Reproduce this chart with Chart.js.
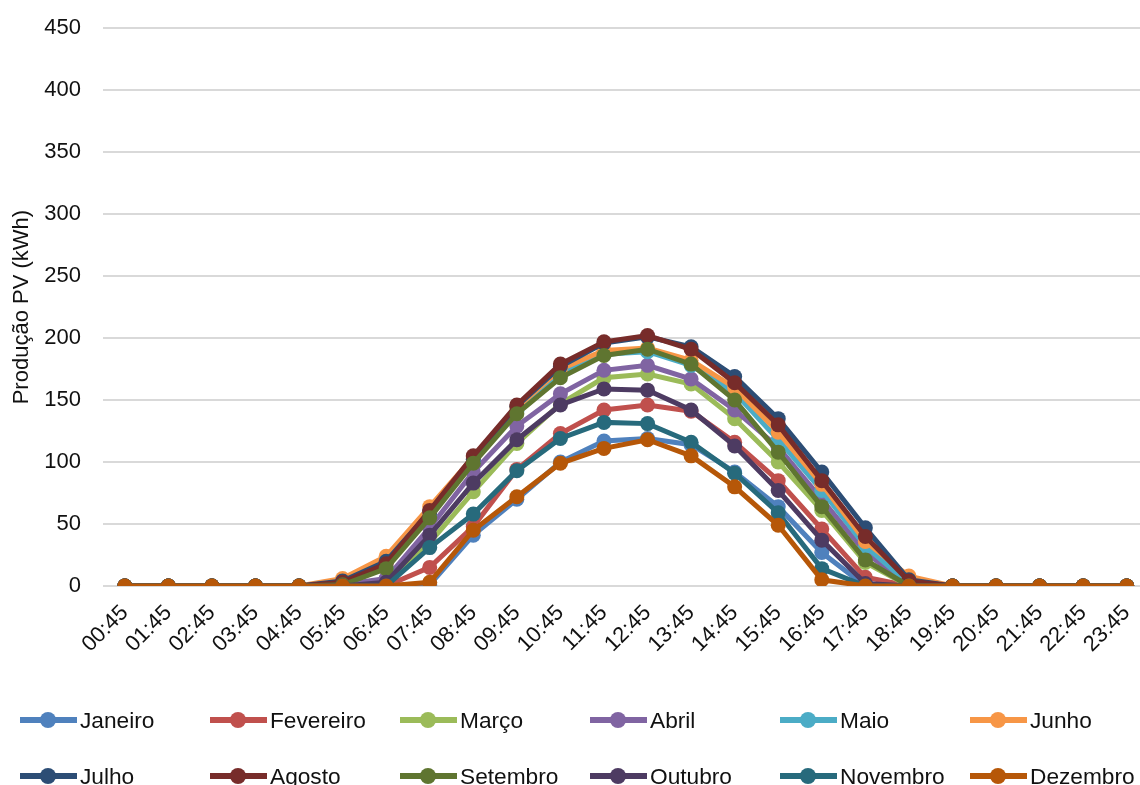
<!DOCTYPE html>
<html>
<head>
<meta charset="utf-8">
<script src="https://cdn.jsdelivr.net/npm/chart.js@4/dist/chart.umd.min.js"></script>
<style>
  html, body { margin: 0; padding: 0; background: #fff; overflow: hidden; width: 1140px; height: 785px; }
  #wrap { position: absolute; left: 0; top: -7px; width: 1156px; height: 697px; }
  #legend { position: absolute; left: 0; top: 0; width: 1160px; height: 785px; pointer-events: none;
            font-family: "Liberation Sans", Arial, sans-serif; font-size: 22.7px; color: #111; }
  .item { position: absolute; display: flex; align-items: center; height: 30px; white-space: nowrap; }
  .mark { position: relative; width: 57px; height: 16px; margin-right: 3px; }
  .mark .ln { position: absolute; left: 0; right: 0; top: 5px; height: 6px; }
  .mark .dt { position: absolute; left: 20px; top: 0px; width: 16px; height: 16px; border-radius: 50%; }
</style>
</head>
<body>
<div id="wrap"><canvas id="chart"></canvas></div>
<div id="legend"></div>
<script>
// Hourly PV production profile, one series per month
const hours = ["00:45","01:45","02:45","03:45","04:45","05:45","06:45","07:45","08:45","09:45","10:45","11:45",
               "12:45","13:45","14:45","15:45","16:45","17:45","18:45","19:45","20:45","21:45","22:45","23:45"];

const months = ["Janeiro","Fevereiro","Março","Abril","Maio","Junho",
                "Julho","Agosto","Setembro","Outubro","Novembro","Dezembro"];

const colors = ["#4F81BD","#C0504D","#9BBB59","#8064A2","#4BACC6","#F79646",
                "#2C4D75","#772C2A","#5F7530","#4D3B62","#276A7C","#B65708"];

const janeiro   = [0,0,0,0,0,0,0,1,41,70,100,117,119,114,92,64,27,0,0,0,0,0,0,0];
const fevereiro = [0,0,0,0,0,0,0,15,48,94,123,142,146,141,116,85,46,7,0,0,0,0,0,0];
const marco     = [0,0,0,0,0,0,2,35,76,115,147,168,171,163,135,100,61,19,0,0,0,0,0,0];
const abril     = [0,0,0,0,0,1,6,47,92,129,155,174,178,167,142,112,70,27,1,0,0,0,0,0];
const maio      = [0,0,0,0,0,2,15,57,100,141,172,187,189,178,156,118,77,32,2,0,0,0,0,0];
const junho     = [0,0,0,0,0,6,24,64,104,144,175,190,192,182,160,124,82,36,8,0,0,0,0,0];
const julho     = [0,0,0,0,0,4,20,60,102,145,177,196,201,193,169,135,92,47,5,0,0,0,0,0];
const agosto    = [0,0,0,0,0,3,18,61,105,146,179,197,202,191,164,130,85,40,4,0,0,0,0,0];
const setembro  = [0,0,0,0,0,1,14,55,99,139,168,186,191,179,150,108,64,21,0,0,0,0,0,0];
const outubro   = [0,0,0,0,0,0,3,41,83,118,146,159,158,142,113,77,37,2,0,0,0,0,0,0];
const novembro  = [0,0,0,0,0,0,0,31,58,93,119,132,131,116,91,59,14,0,0,0,0,0,0,0];
const dezembro  = [0,0,0,0,0,0,0,3,45,72,99,111,118,105,80,49,5,0,0,0,0,0,0,0];

const series = [janeiro, fevereiro, marco, abril, maio, junho,
                julho, agosto, setembro, outubro, novembro, dezembro];

const yTicks = [0,50,100,150,200,250,300,350,400,450];

const FONT = "'Liberation Sans', Arial, sans-serif";
const TEXT = "#111";

const datasets = series.map((vals, i) => ({
  label: months[i],
  data: vals,
  borderColor: colors[i],
  backgroundColor: colors[i],
  borderWidth: 5,
  pointRadius: 7.5,
  pointBorderWidth: 0,
  pointHoverRadius: 7.5,
  tension: 0,
  // later months are painted above earlier ones
  order: months.length - i
}));

new Chart(document.getElementById("chart"), {
  type: "line",
  data: { labels: hours, datasets },
  options: {
    responsive: true,
    maintainAspectRatio: false,
    animation: false,
    events: [],
    layout: { padding: { top: 20, right: 0, bottom: 0, left: 0 } },
    plugins: { legend: { display: false }, tooltip: { enabled: false } },
    scales: {
      x: {
        offset: true,
        grid: { display: false },
        border: { display: false },
        ticks: {
          autoSkip: false, maxRotation: 45, minRotation: 45, padding: 6,
          color: TEXT, font: { family: FONT, size: 22 }
        },
        afterFit: (s) => { s.height = 104; }
      },
      y: {
        min: 0, max: 450,
        afterBuildTicks: (s) => { s.ticks = yTicks.map(v => ({ value: v })); },
        grid: { color: "#d9d9d9", lineWidth: 2, drawTicks: false },
        border: { display: false },
        ticks: { padding: 22, color: TEXT, font: { family: FONT, size: 22 } },
        title: {
          display: true, text: "Produção PV (kWh)", color: TEXT,
          font: { family: FONT, size: 22 }, padding: { top: 9, bottom: 0 }
        },
        afterFit: (s) => { s.width = 103; }
      }
    }
  }
});

// Legend: two rows of six entries in fixed columns
const legend = document.getElementById("legend");
months.forEach((m, i) => {
  const col = i % 6, row = Math.floor(i / 6);
  const el = document.createElement("div");
  el.className = "item";
  el.style.left = (20 + col * 190) + "px";
  el.style.top = (705 + row * 56) + "px";
  el.innerHTML = '<div class="mark"><div class="ln" style="background:' + colors[i] +
                 '"></div><div class="dt" style="background:' + colors[i] + '"></div></div><span>' + m + '</span>';
  legend.appendChild(el);
});
</script>
</body>
</html>
